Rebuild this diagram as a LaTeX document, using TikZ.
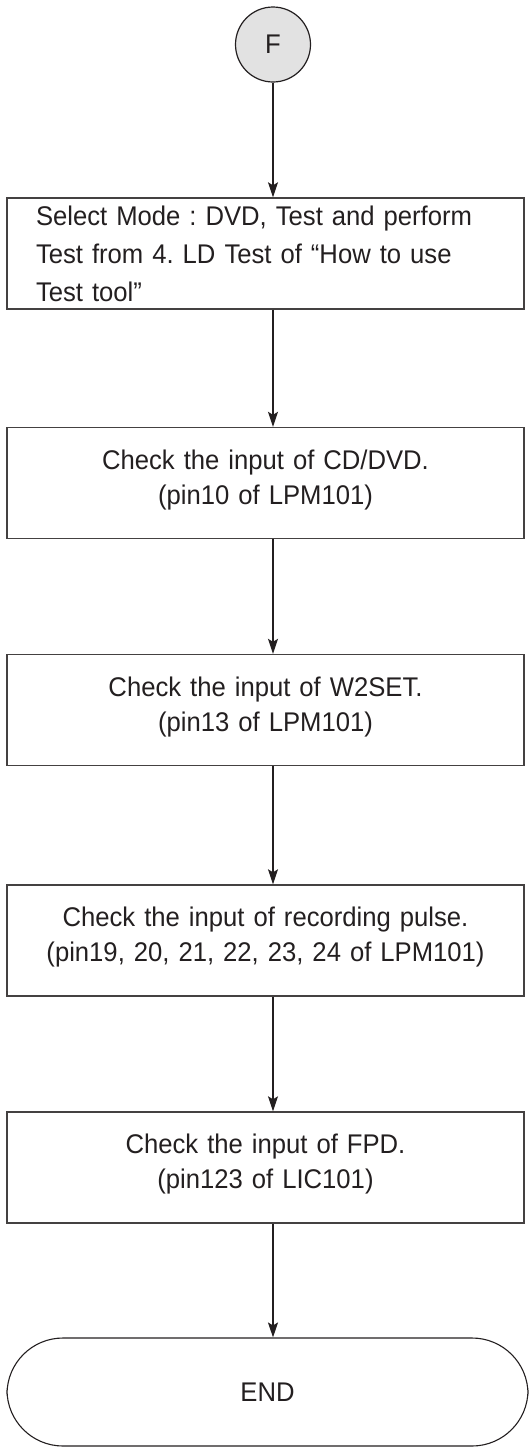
\documentclass[tikz,border=0pt]{standalone}
\usepackage{fontspec}
\setmainfont{Liberation Sans}[FakeStretch=0.95]
\usetikzlibrary{arrows.meta}
\definecolor{ink}{HTML}{231F20}
\definecolor{circfill}{HTML}{E2E2E2}
\newcommand{\lowpad}{\rule[-12pt]{0pt}{0pt}}
\tikzset{
  flowbox/.style={draw=ink!85, line width=1.4pt, rectangle, minimum width=517pt, minimum height=111pt,
    inner xsep=29pt, inner ysep=0pt, text width=459pt, text=ink,
    font=\fontsize{27}{35}\selectfont\frenchspacing},
  connector/.style={draw=ink, line width=1.3pt, -{Stealth[length=15pt,width=10pt,inset=3pt]}},
  startcircle/.style={draw=ink, line width=1.2pt, circle, fill=circfill, minimum size=75pt, inner sep=0pt, text=ink,
    font=\fontsize{27}{30}\selectfont},
  endbox/.style={draw=ink, line width=1.1pt, rounded corners=56pt, minimum width=521pt, minimum height=108pt,
    inner sep=0pt, text=ink, font=\fontsize{27}{30}\selectfont}
}
\begin{document}
\begin{tikzpicture}[x=1pt,y=-1pt]
\useasboundingbox (0,0) rectangle (530,1449);
\node[startcircle] (F) at (273,44.5) {F};
\node[flowbox, align=left, font=\fontsize{27}{38}\selectfont\frenchspacing] (b1) at (265.5,253.5) {Select Mode : DVD, Test and perform\\Test from 4. LD Test of “How to use\\Test tool”};
\node[flowbox, align=center] (b2) at (265.5,483) {Check the input of CD/DVD.\\(pin10 of LPM101)\lowpad};
\node[flowbox, align=center] (b3) at (265.5,710) {Check the input of W2SET.\\(pin13 of LPM101)\lowpad};
\node[flowbox, align=center] (b4) at (265.5,940.5) {Check the input of recording pulse.\\(pin19, 20, 21, 22, 23, 24 of LPM101)\lowpad};
\node[flowbox, align=center] (b5) at (265.5,1167.5) {Check the input of FPD.\\(pin123 of LIC101)\lowpad};
\node[endbox] (e) at (267.5,1392) {END};
\draw[connector] (F.south) -- (F.south |- b1.north);
\draw[connector] (F.south |- b1.south) -- (F.south |- b2.north);
\draw[connector] (F.south |- b2.south) -- (F.south |- b3.north);
\draw[connector] (F.south |- b3.south) -- (F.south |- b4.north);
\draw[connector] (F.south |- b4.south) -- (F.south |- b5.north);
\draw[connector] (F.south |- b5.south) -- (F.south |- e.north);
\end{tikzpicture}
\end{document}
